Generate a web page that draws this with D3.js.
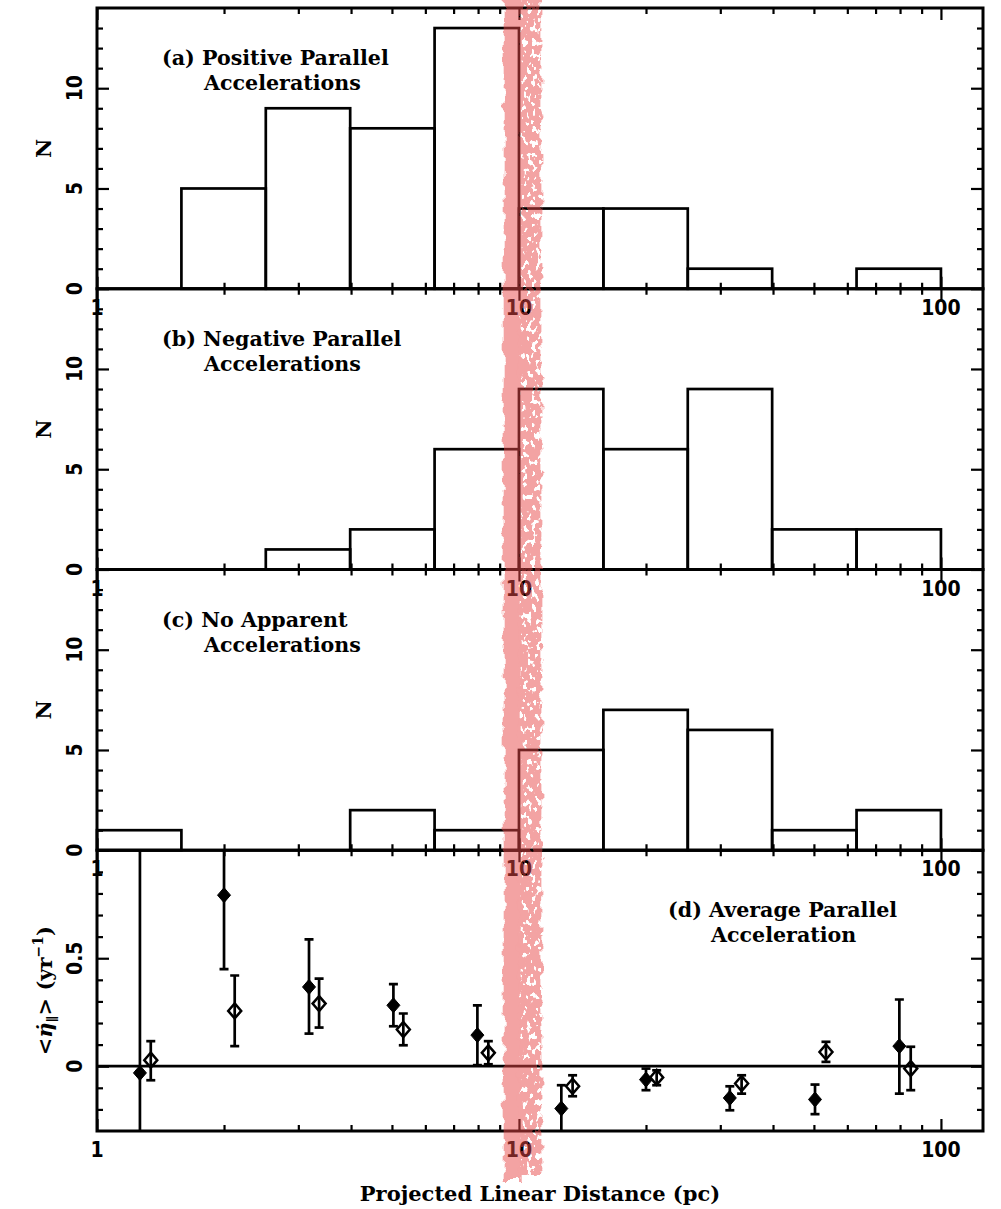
<!DOCTYPE html>
<html>
<head>
<meta charset="utf-8">
<script src="https://cdn.jsdelivr.net/npm/d3@7"></script>
<style>
  html, body { margin: 0; padding: 0; background: #fff; }
  svg { display: block; }
  .title { font-family: "DejaVu Serif", serif; font-weight: bold; fill: #000; }
  .tick-label { font-family: "DejaVu Sans", sans-serif; font-stretch: condensed; font-weight: bold; fill: #000; }
</style>
</head>
<body>
<svg id="chart" width="1001" height="1209"></svg>
<script>
// Logarithmic bin edges in projected linear distance (pc), five bins per decade
const binEdges = [1, 1.585, 2.512, 3.981, 6.310, 10, 15.85, 25.12, 39.81, 63.10, 100];

// Counts per bin for the three histograms
const countsPositive = [0, 5, 9, 8, 13, 4, 4, 1, 0, 1];
const countsNegative = [0, 0, 1, 2, 6, 9, 6, 9, 2, 2];
const countsNone     = [1, 0, 0, 2, 1, 5, 7, 6, 1, 2];

// Average parallel acceleration: filled diamonds
const filledX  = [1.264, 2.0, 3.18, 5.04, 7.97, 12.6, 20.0, 31.6, 50.3, 79.7];
const filledY  = [-0.031, 0.792, 0.367, 0.282, 0.144, -0.196, -0.062, -0.147, -0.154, 0.093];
const filledHi = [1.5, 1.08, 0.587, 0.38, 0.282, -0.088, -0.011, -0.093, -0.085, 0.309];
const filledLo = [-0.5, 0.45, 0.151, 0.185, 0.005, -0.33, -0.111, -0.204, -0.222, -0.127];

// Average parallel acceleration: open diamonds
const openX  = [1.341, 2.12, 3.36, 5.32, 8.46, 13.4, 21.2, 33.7, 53.4, 84.8];
const openY  = [0.028, 0.256, 0.29, 0.17, 0.062, -0.093, -0.052, -0.08, 0.066, -0.011];
const openHi = [0.116, 0.42, 0.406, 0.244, 0.116, -0.042, -0.019, -0.042, 0.113, 0.09];
const openLo = [-0.065, 0.093, 0.179, 0.097, 0.009, -0.139, -0.088, -0.127, 0.02, -0.111];

// Axis ticks and labels
const xMajor = [1, 10, 100];
const xMinor = [2, 3, 4, 5, 6, 7, 8, 9, 20, 30, 40, 50, 60, 70, 80, 90];
const histMajor = [0, 5, 10];
const histMinor = [1, 2, 3, 4, 6, 7, 8, 9, 11, 12, 13];
const accMajor = [0, 0.5, 1];
const accMinor = [-0.2, -0.1, 0.1, 0.2, 0.3, 0.4, 0.6, 0.7, 0.8, 0.9];
const accLabels = [0, 0.5];

// Highlighted distance range around 10 pc (left solid part, right speckled part)
const bandLeft = [9.2, 10.15];
const bandRight = [10.0, 11.3];

const panelLabels = [
  ["(a) Positive Parallel", "Accelerations"],
  ["(b) Negative Parallel", "Accelerations"],
  ["(c) No Apparent", "Accelerations"]
];

const W = 1001, H = 1209;
const plotL = 97, plotR = 983, plotT = 8, plotB = 1131;
const panelH = (plotB - plotT) / 4;

const svg = d3.select("#chart");
svg.append("rect").attr("width", W).attr("height", H).attr("fill", "#fff");

const x = d3.scaleLog().domain([1, 125.8]).range([plotL, plotR]);

const defs = svg.append("defs");

// rough marker-pen edges; optional speckles cut out of the stroke
function roughFilter(id, seed, holes) {
  const f = defs.append("filter").attr("id", id)
    .attr("x", "-60%").attr("y", "-3%").attr("width", "220%").attr("height", "106%");
  f.append("feTurbulence").attr("type", "fractalNoise").attr("baseFrequency", "0.1")
    .attr("numOctaves", 2).attr("seed", seed).attr("result", "noise");
  f.append("feDisplacementMap").attr("in", "SourceGraphic").attr("in2", "noise")
    .attr("scale", 10).attr("xChannelSelector", "R").attr("yChannelSelector", "G").attr("result", "disp");
  if (holes) {
    f.append("feTurbulence").attr("type", "fractalNoise").attr("baseFrequency", "0.22 0.15")
      .attr("numOctaves", 2).attr("seed", seed + 7).attr("result", "n2");
    f.append("feColorMatrix").attr("in", "n2").attr("type", "matrix")
      .attr("values", "0 0 0 0 0  0 0 0 0 0  0 0 0 0 0  0 0 0 -24 15.2").attr("result", "mask");
    f.append("feComposite").attr("in", "disp").attr("in2", "mask").attr("operator", "in");
  }
}
roughFilter("roughSolid", 4, false);
roughFilter("roughSpeck", 9, true);

const lw = 2.7;

function drawFrame(g, y0, y1, yScale, major, minor) {
  // x ticks: top (pointing down) and bottom (pointing up); y ticks pointing inward
  const mk = (axisFn, sc, vals, size, tx, ty) => {
    const a = g.append("g").attr("transform", `translate(${tx},${ty})`)
      .call(axisFn(sc).tickValues(vals).tickSize(size).tickFormat(""));
    a.select(".domain").remove();
    a.selectAll("line").attr("stroke", "#000").attr("stroke-width", 2.2);
    a.selectAll("text").remove();
  };
  mk(d3.axisBottom, x, xMinor, 6, 0, y0);
  mk(d3.axisBottom, x, xMajor, 12, 0, y0);
  mk(d3.axisTop, x, xMinor, 6, 0, y1);
  mk(d3.axisTop, x, xMajor, 12, 0, y1);
  mk(d3.axisRight, yScale, minor, 6, plotL, 0);
  mk(d3.axisRight, yScale, major, 12, plotL, 0);
  mk(d3.axisLeft, yScale, minor, 6, plotR, 0);
  mk(d3.axisLeft, yScale, major, 12, plotR, 0);
  g.append("rect").attr("x", plotL).attr("y", y0).attr("width", plotR - plotL).attr("height", y1 - y0)
    .attr("fill", "none").attr("stroke", "#000").attr("stroke-width", 3);
}

function xTickLabels(g, yAxis) {
  g.selectAll(null).data(xMajor).join("text")
    .attr("class", "tick-label")
    .attr("x", d => x(d)).attr("y", yAxis + 26)
    .attr("text-anchor", "middle").attr("font-size", 21)
    .text(d => d);
}

function yTickLabels(g, yScale, vals) {
  g.selectAll(null).data(vals).join("text")
    .attr("class", "tick-label")
    .attr("transform", d => `translate(82,${yScale(d)}) rotate(-90)`)
    .attr("text-anchor", "middle").attr("font-size", 21)
    .text(d => d);
}

const histData = [countsPositive, countsNegative, countsNone];

histData.forEach((counts, i) => {
  const y0 = plotT + i * panelH, y1 = plotT + (i + 1) * panelH;
  const y = d3.scaleLinear().domain([0, 14]).range([y1, y0]);
  const g = svg.append("g");

  const bins = counts.map((c, k) => ({ x0: binEdges[k], x1: binEdges[k + 1], n: c })).filter(b => b.n > 0);
  g.selectAll(null).data(bins).join("rect")
    .attr("x", b => x(b.x0)).attr("width", b => x(b.x1) - x(b.x0))
    .attr("y", b => y(b.n)).attr("height", b => y(0) - y(b.n))
    .attr("fill", "none").attr("stroke", "#000").attr("stroke-width", lw);

  drawFrame(g, y0, y1, y, histMajor, histMinor);
  xTickLabels(g, y1);
  yTickLabels(g, y, histMajor);

  g.append("text").attr("class", "title").attr("font-size", 21)
    .attr("transform", `translate(51,${(y0 + y1) / 2}) rotate(-90)`)
    .attr("text-anchor", "middle").text("N");

  const [l1, l2] = panelLabels[i];
  g.append("text").attr("class", "title").attr("font-size", 20.6)
    .attr("x", 162).attr("y", y0 + 57).text(l1);
  g.append("text").attr("class", "title").attr("font-size", 20.6)
    .attr("x", 204).attr("y", y0 + 82).text(l2);
});

// Panel (d): average parallel acceleration
{
  const y0 = plotT + 3 * panelH, y1 = plotB;
  const y = d3.scaleLinear().domain([-0.3, 1.0]).range([y1, y0]);
  const g = svg.append("g");

  defs.append("clipPath").attr("id", "clipD").append("rect")
    .attr("x", plotL).attr("y", y0).attr("width", plotR - plotL).attr("height", y1 - y0);

  g.append("line").attr("x1", plotL).attr("x2", plotR).attr("y1", y(0)).attr("y2", y(0))
    .attr("stroke", "#000").attr("stroke-width", lw);

  const pts = g.append("g").attr("clip-path", "url(#clipD)");
  const series = [
    { xs: filledX, ys: filledY, hi: filledHi, lo: filledLo, filled: true },
    { xs: openX, ys: openY, hi: openHi, lo: openLo, filled: false }
  ];
  const cap = 4.5, dw = 6.5, dh = 7.5;
  series.forEach(s => {
    const data = s.xs.map((v, k) => ({ x: v, y: s.ys[k], hi: s.hi[k], lo: s.lo[k] }));
    const e = pts.append("g").attr("stroke", "#000").attr("stroke-width", lw);
    e.selectAll(null).data(data).join("line")
      .attr("x1", d => x(d.x)).attr("x2", d => x(d.x))
      .attr("y1", d => y(d.hi)).attr("y2", d => y(d.lo));
    e.selectAll(null).data(data.flatMap(d => [{ x: d.x, v: d.hi }, { x: d.x, v: d.lo }])).join("line")
      .attr("x1", d => x(d.x) - cap).attr("x2", d => x(d.x) + cap)
      .attr("y1", d => y(d.v)).attr("y2", d => y(d.v));
    pts.append("g").selectAll(null).data(data).join("path")
      .attr("d", d => {
        const cx = x(d.x), cy = y(d.y);
        return `M${cx},${cy - dh}L${cx + dw},${cy}L${cx},${cy + dh}L${cx - dw},${cy}Z`;
      })
      .attr("fill", s.filled ? "#000" : "none")
      .attr("stroke", "#000").attr("stroke-width", s.filled ? 1 : 2.5);
  });

  drawFrame(g, y0, y1, y, accMajor, accMinor);
  xTickLabels(g, y1);
  yTickLabels(g, y, accLabels);

  g.append("text").attr("class", "title").attr("font-size", 20.6)
    .attr("x", 668).attr("y", 917).text("(d) Average Parallel");
  g.append("text").attr("class", "title").attr("font-size", 20.6)
    .attr("x", 711).attr("y", 942).text("Acceleration");

  const yt = g.append("text").attr("class", "title").attr("font-size", 21)
    .attr("transform", `translate(52,${(y0 + y1) / 2}) rotate(-90)`)
    .attr("text-anchor", "middle");
  yt.append("tspan").text("<");
  yt.append("tspan").attr("font-style", "italic").text("\u03B7\u0307");
  yt.append("tspan").attr("font-size", 13).attr("dy", 5).text("\u2225");
  yt.append("tspan").attr("dy", -5).text("> (yr");
  yt.append("tspan").attr("font-size", 14).attr("dy", -9).text("\u22121");
  yt.append("tspan").attr("dy", 9).text(")");
}

// x-axis title
svg.append("text").attr("class", "title").attr("font-size", 21)
  .attr("x", (plotL + plotR) / 2).attr("y", 1201).attr("text-anchor", "middle")
  .text("Projected Linear Distance (pc)");

// highlight band around 10 pc, drawn over everything
const band = svg.append("g").attr("opacity", 0.5);
band.append("rect")
  .attr("x", x(bandLeft[0])).attr("width", x(bandLeft[1]) - x(bandLeft[0]))
  .attr("y", -20).attr("height", 1200)
  .attr("fill", "#e84a4a").attr("filter", "url(#roughSolid)");
band.append("rect")
  .attr("x", x(bandRight[0])).attr("width", x(bandRight[1]) - x(bandRight[0]))
  .attr("y", -20).attr("height", 1196)
  .attr("fill", "#e84a4a").attr("filter", "url(#roughSpeck)");
</script>
</body>
</html>
